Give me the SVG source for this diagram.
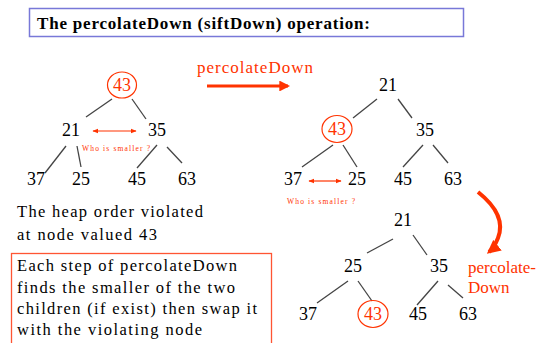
<svg xmlns="http://www.w3.org/2000/svg" width="550" height="343" viewBox="0 0 550 343">
<style>
.s{font-family:"Liberation Serif","Times New Roman","DejaVu Serif",serif}
.n{font-size:18px;fill:#000;text-anchor:middle}
.r{fill:#ff3300}
.e{stroke:#444;stroke-width:1.3;fill:none}
.c{fill:none;stroke:#ff3300;stroke-width:1.2}
.t{font-size:16.5px;fill:#000}
.w{font-size:7.5px;fill:#ff3300}
.l{font-size:17px;fill:#ff3300}
.da{stroke:#ff3300;stroke-width:1.2;marker-start:url(#ah);marker-end:url(#ah)}
</style>
<defs>
<marker id="ah" viewBox="0 0 10 10" refX="9" refY="5" markerWidth="5" markerHeight="5" orient="auto-start-reverse"><path d="M0,1 L10,5 L0,9 z" fill="#ff3300"/></marker>
<marker id="bh" viewBox="0 0 10 10" refX="8" refY="5" markerWidth="3.4" markerHeight="3.4" orient="auto"><path d="M0,0 L10,5 L0,10 z" fill="#ff3300"/></marker>
</defs>
<rect x="0" y="0" width="550" height="343" fill="#fff"/>
<g id="title">
<rect x="29.5" y="8.5" width="434" height="28" fill="#fff" stroke="#7878d8" stroke-width="1.5"/>
<text class="s" x="37" y="29" font-size="17" font-weight="bold" fill="#000" textLength="333">The percolateDown (siftDown)  operation:</text>
</g>
<g id="connectors">
<line class="e" x1="112" y1="99" x2="86" y2="117"/>
<line class="e" x1="132" y1="99" x2="146" y2="119"/>
<line class="e" x1="66" y1="146" x2="45" y2="173"/>
<line class="e" x1="77" y1="146" x2="81" y2="167"/>
<line class="e" x1="157" y1="145" x2="137" y2="168"/>
<line class="e" x1="167" y1="147" x2="182" y2="163"/>
<line class="e" x1="377" y1="99" x2="353" y2="118"/>
<line class="e" x1="398" y1="99" x2="412" y2="118"/>
<line class="e" x1="333" y1="145" x2="302" y2="167"/>
<line class="e" x1="343" y1="145" x2="357" y2="167"/>
<line class="e" x1="423" y1="145" x2="403" y2="167"/>
<line class="e" x1="433" y1="145" x2="448" y2="163"/>
<line class="e" x1="393" y1="239" x2="367" y2="253"/>
<line class="e" x1="413" y1="235" x2="427" y2="255"/>
<line class="e" x1="348" y1="281" x2="317" y2="303"/>
<line class="e" x1="358" y1="281" x2="372" y2="301"/>
<line class="e" x1="438" y1="281" x2="417" y2="305"/>
<line class="e" x1="448" y1="285" x2="463" y2="298"/>
<line class="da" x1="93" y1="131" x2="136" y2="131"/>
<line class="da" x1="309" y1="181" x2="341" y2="181"/>
<line x1="207" y1="86" x2="288" y2="86" stroke="#ff3300" stroke-width="3.2" marker-end="url(#bh)"/>
<path d="M478,192 Q507,215 498,238 Q494,248 489,252" fill="none" stroke="#ff3300" stroke-width="4" marker-end="url(#bh)"/>
</g>
<g id="tree1" class="s">
<g id="t1-43"><ellipse class="c" cx="122" cy="85" rx="14.5" ry="13"/><text class="s n r" x="122" y="91">43</text></g>
<g id="t1-21"><text class="s n" x="71" y="136">21</text></g>
<g id="t1-35"><text class="s n" x="157" y="136">35</text></g>
<g id="t1-37"><text class="s n" x="36" y="185">37</text></g>
<g id="t1-25"><text class="s n" x="81" y="185">25</text></g>
<g id="t1-45"><text class="s n" x="137" y="185">45</text></g>
<g id="t1-63"><text class="s n" x="187" y="185">63</text></g>
<text class="s w" x="82" y="151" textLength="68">Who is smaller ?</text>
</g>
<g id="tree2" class="s">
<g id="t2-21"><text class="s n" x="388" y="91">21</text></g>
<g id="t2-43"><ellipse class="c" cx="337" cy="129" rx="15" ry="13.5"/><text class="s n r" x="337" y="135">43</text></g>
<g id="t2-35"><text class="s n" x="425" y="136">35</text></g>
<g id="t2-37"><text class="s n" x="293" y="185">37</text></g>
<g id="t2-25"><text class="s n" x="357" y="185">25</text></g>
<g id="t2-45"><text class="s n" x="403" y="185">45</text></g>
<g id="t2-63"><text class="s n" x="453" y="185">63</text></g>
<text class="s w" x="287" y="204" textLength="68">Who is smaller ?</text>
</g>
<g id="tree3" class="s">
<g id="t3-21"><text class="s n" x="403" y="226">21</text></g>
<g id="t3-25"><text class="s n" x="353" y="272">25</text></g>
<g id="t3-35"><text class="s n" x="439" y="272">35</text></g>
<g id="t3-37"><text class="s n" x="308" y="320">37</text></g>
<g id="t3-43"><ellipse class="c" cx="373" cy="314" rx="15" ry="13.5"/><text class="s n r" x="373" y="320">43</text></g>
<g id="t3-45"><text class="s n" x="418" y="320">45</text></g>
<g id="t3-63"><text class="s n" x="468" y="320">63</text></g>
</g>
<g id="labels" class="s">
<text class="s l" x="197" y="73" textLength="116">percolateDown</text>
<text class="s l" x="468" y="273">percolate-</text>
<text class="s l" x="468" y="293">Down</text>
<text class="s t" x="17" y="217" textLength="186">The heap order violated</text>
<text class="s t" x="17" y="240" textLength="140">at node valued  43</text>
</g>
<g id="note" class="s">
<rect x="11.5" y="253.5" width="260" height="100" fill="none" stroke="#ff5533" stroke-width="1.3"/>
<text class="s t" x="17" y="271" textLength="220">Each step of percolateDown</text>
<text class="s t" x="17" y="293" textLength="218">finds  the smaller  of the two</text>
<text class="s t" x="17" y="314" textLength="240">children  (if exist) then swap it</text>
<text class="s t" x="17" y="335" textLength="185">with the violating  node</text>
</g>
</svg>
